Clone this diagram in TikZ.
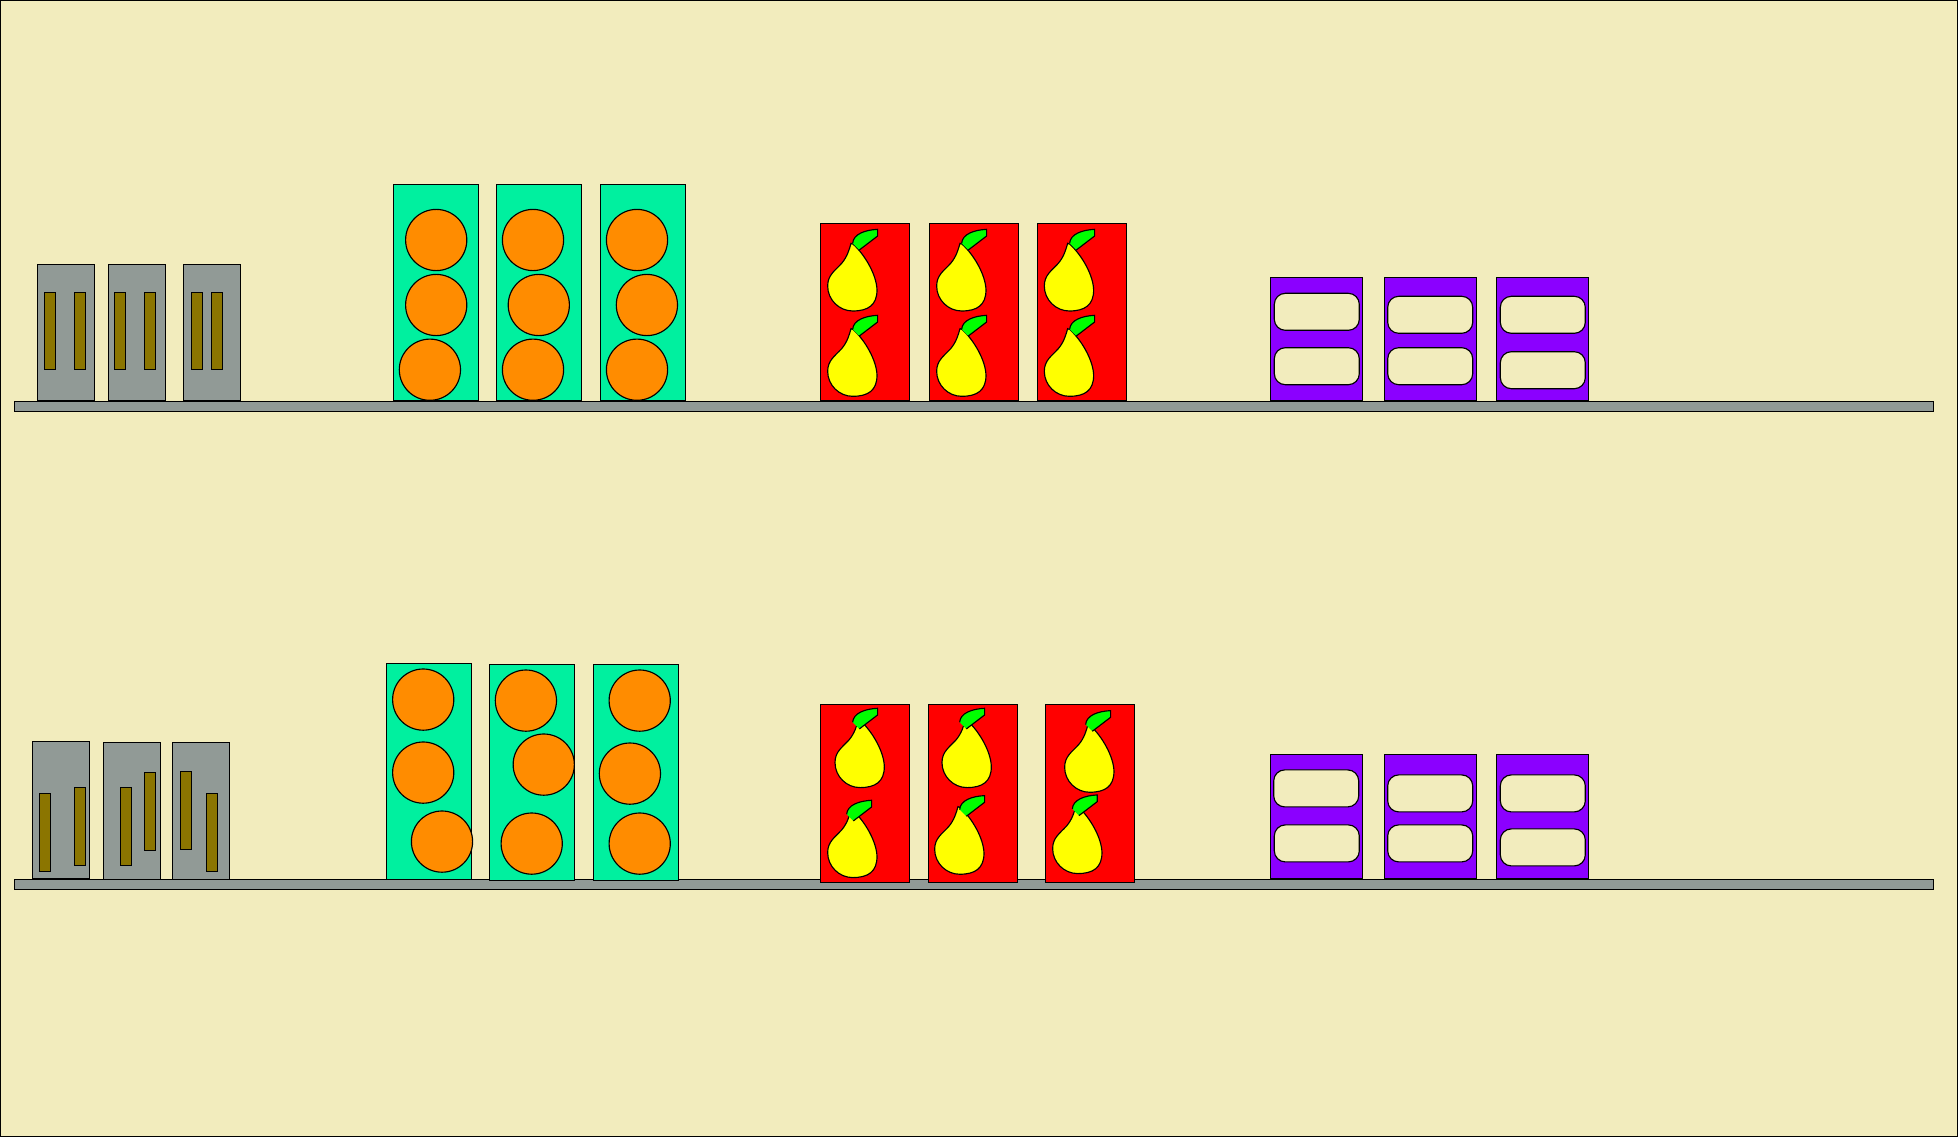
\documentclass[tikz,border=0pt]{standalone}
\definecolor{bgc}{HTML}{F2ECBD}
\definecolor{greyc}{HTML}{919A96}
\definecolor{barc}{HTML}{8B7500}
\definecolor{mintc}{HTML}{00F09F}
\definecolor{orangec}{HTML}{FF8C00}
\definecolor{redc}{HTML}{FF0000}
\definecolor{yellowc}{HTML}{FFFF00}
\definecolor{leafc}{HTML}{00FF00}
\definecolor{violetc}{HTML}{8B00FF}
\tikzset{
  ln/.style={draw=black,line width=1.15pt},
  shelfbox/.style={ln,fill=greyc},
  greybox/.style={ln,fill=greyc},
  barbox/.style={ln,fill=barc},
  mintbox/.style={ln,fill=mintc},
  fruit/.style={ln,fill=orangec},
  redbox/.style={ln,fill=redc},
  pearbody/.style={ln,fill=yellowc},
  pearleaf/.style={ln,fill=leafc},
  violetbox/.style={ln,fill=violetc},
  slot/.style={ln,fill=bgc,rounded corners=11pt}
}
% pear: pear offset, leaf offset, in 1/3 px from first pear
\newcommand{\drawpear}[4]{%
  \begin{scope}[shift={(800,210)},x=0.3333pt,y=-0.3333pt]
    \begin{scope}[shift={(#1,#2)}]
      \filldraw[pearbody] (153,100) .. controls (148,118) and (142,140) .. (125,160)
        .. controls (105,182) and (83,195) .. (83,228)
        .. controls (83,270) and (118,303) .. (158,303)
        .. controls (205,303) and (231,285) .. (231,240)
        .. controls (230,195) and (195,135) .. (160,103) -- cycle;
    \end{scope}
    \begin{scope}[shift={(#3,#4)}]
      \filldraw[pearleaf] (158,100) .. controls (160,72) and (195,60) .. (233,58)
        -- (233,78) -- (178,120);
    \end{scope}
  \end{scope}}
\newcommand{\drawbar}[2]{\draw[barbox] (#1,#2) rectangle ++(11.2,77.4);}
\newcommand{\drawslot}[2]{\draw[slot] (#1,#2) rectangle ++(85,37);}
\begin{document}
\begin{tikzpicture}[x=1pt,y=-1pt]
\useasboundingbox (0,0) rectangle (1958,1137);
\draw[fill=bgc,draw=black,line width=1.2pt] (0.6,0.6) rectangle (1957.4,1136.4);
% top shelf
\draw[shelfbox] (14.3,401.3) rectangle (1933.7,411.3);
% top grey boxes
\draw[greybox] (37.5,264.3) rectangle ++(57.1,136);
\draw[greybox] (108.5,264.3) rectangle ++(57.1,136);
\draw[greybox] (183.5,264.3) rectangle ++(57.1,136);
\drawbar{44.6}{292.3}\drawbar{74.6}{292.3}
\drawbar{114.3}{292.3}\drawbar{144.6}{292.3}
\drawbar{191.5}{292.3}\drawbar{211.6}{292.3}
% top mint boxes
\draw[mintbox] (393.3,184.3) rectangle ++(85.3,216);
\draw[mintbox] (496.4,184.3) rectangle ++(85.3,216);
\draw[mintbox] (600.4,184.3) rectangle ++(85.3,216);
\foreach \cx/\cy in {436.2/240,436.2/305,429.9/369.7,533/240,538.8/305,533/369.7,637/240,646.9/305,637/369.7}
  \draw[fruit] (\cx,\cy) circle[radius=30.6];
% top red boxes
\draw[redbox] (820.7,223.3) rectangle ++(89,177.4);
\draw[redbox] (929.3,223.3) rectangle ++(89,177.4);
\draw[redbox] (1037.3,223.3) rectangle ++(89,177.4);
\drawpear{0}{0}{0}{0}
\drawpear{0}{256}{0}{258}
\drawpear{327}{0}{327}{0}
\drawpear{327}{256}{327}{258}
\drawpear{650}{0}{651}{0}
\drawpear{650}{256}{651}{258}
% top violet boxes
\draw[violetbox] (1270.7,277.3) rectangle ++(92,123.4);
\draw[violetbox] (1384.3,277.3) rectangle ++(92,123.4);
\draw[violetbox] (1496.3,277.3) rectangle ++(92,123.4);
\drawslot{1274.3}{293.3}\drawslot{1274.3}{347.7}
\drawslot{1387.7}{296.3}\drawslot{1387.7}{347.7}
\drawslot{1500.3}{296.3}\drawslot{1500.3}{351.7}
\begin{scope}[yshift=-0.6pt]
% bottom shelf
\draw[shelfbox] (14.3,879.3) rectangle (1933.7,889.3);
% bottom grey boxes
\draw[greybox] (32.6,741.3) rectangle ++(57.1,136.4);
\draw[greybox] (103.6,742.3) rectangle ++(57.1,136.4);
\draw[greybox] (172.3,742.3) rectangle ++(57.1,136.4);
\drawbar{39.3}{793.3}\drawbar{74.6}{787.3}
\drawbar{120.5}{787.3}\drawbar{144.6}{772.3}
\drawbar{180.4}{771.3}\drawbar{206.3}{793.3}
% bottom mint boxes
\draw[mintbox] (386.6,663.3) rectangle ++(85.3,216);
\draw[mintbox] (489.3,664.3) rectangle ++(85.3,216);
\draw[mintbox] (593.3,664.3) rectangle ++(85.3,216);
\foreach \cx/\cy in {423.2/699,423.2/772,442/841,525.9/700,543.75/764,531.7/843,639.7/700,629.9/773,639.7/843}
  \draw[fruit] (\cx,\cy) circle[radius=30.6];
% bottom red boxes
\draw[redbox] (820.7,704.3) rectangle ++(89,177.4);
\draw[redbox] (928.7,704.3) rectangle ++(89,177.4);
\draw[redbox] (1045.7,704.3) rectangle ++(89,177.4);
\begin{scope}[yshift=-480pt]
\drawpear{22}{-12}{0}{-5}
\drawpear{0}{258}{-18}{271}
\drawpear{343}{-12}{321}{-5}
\drawpear{321}{248}{321}{257}
\drawpear{711}{2}{699}{2}
\drawpear{675}{246}{659}{255}
\end{scope}
% bottom violet boxes
\draw[violetbox] (1270.7,754.3) rectangle ++(92,123.4);
\draw[violetbox] (1384.3,754.3) rectangle ++(92,123.4);
\draw[violetbox] (1496.3,754.3) rectangle ++(92,123.4);
\drawslot{1273.7}{769.3}\drawslot{1274.3}{824.3}
\drawslot{1387.7}{774.3}\drawslot{1387.7}{824.3}
\drawslot{1500.3}{774.3}\drawslot{1500.3}{828.3}
\end{scope}
\end{tikzpicture}
\end{document}
